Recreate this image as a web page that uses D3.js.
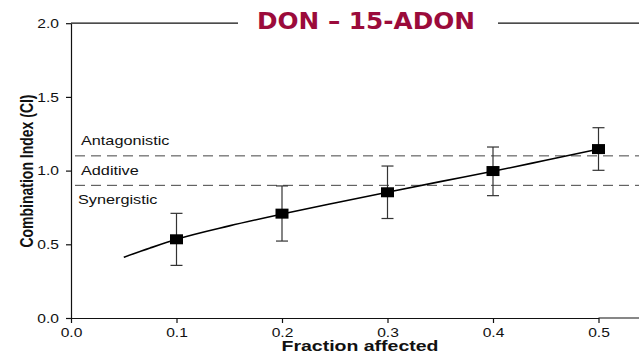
<!DOCTYPE html>
<html>
<head>
<meta charset="utf-8">
<script src="https://cdn.jsdelivr.net/npm/d3@7"></script>
<style>
  body { margin: 0; background: #fff; }
  svg { display: block; }
</style>
</head>
<body>
<script>
// chart data
var fa = [0.1, 0.2, 0.3, 0.4, 0.5];            // fraction affected
var ciMean = [0.534, 0.708, 0.853, 0.997, 1.146];
var ciUpper = [0.71, 0.896, 1.031, 1.16, 1.291];
var ciLower = [0.357, 0.522, 0.675, 0.83, 1.002];

// fitted curve (traced)
var curveFa = [0.05, 0.075, 0.1, 0.15, 0.2, 0.25, 0.3, 0.35, 0.4, 0.45, 0.5];
var curveCi = [0.412, 0.475, 0.534, 0.625, 0.705, 0.78, 0.853, 0.925, 0.995, 1.07, 1.146];

var xTicks = [0.0, 0.1, 0.2, 0.3, 0.4, 0.5];
var yTicks = [0.0, 0.5, 1.0, 1.5, 2.0];

var zones = [
  {name: "Antagonistic", y: 1.1},
  {name: "Additive", y: 0.9},
  {name: "Synergistic", y: null}
];
var titleText = "DON \u2013 15-ADON";

// layout
var width = 639, height = 355;
var stretch = 1.3; // text in the original is wide-stretched
var font = "'Liberation Sans', Arial, sans-serif";

var svg = d3.select("body").append("svg")
  .attr("width", width)
  .attr("height", height);

var x = d3.scaleLinear().domain([0, 0.5]).range([71, 598.5]);
var y = d3.scaleLinear().domain([0, 2]).range([318, 23.2]);

// top frame line (title sits over it)
svg.append("line")
  .attr("x1", x(0)).attr("x2", width)
  .attr("y1", y(2)).attr("y2", y(2))
  .attr("stroke", "#111").attr("stroke-width", 1.2);

// dashed reference lines
[1.1, 0.9].forEach(function (v) {
  svg.append("line")
    .attr("x1", x(0) + 4).attr("x2", width)
    .attr("y1", y(v)).attr("y2", y(v))
    .attr("stroke", "#444").attr("stroke-width", 1)
    .attr("stroke-dasharray", "10,6");
});

// y axis
var yAxis = svg.append("g")
  .attr("transform", "translate(" + x(0) + ",0)")
  .call(d3.axisLeft(y).tickValues(yTicks).tickFormat(d3.format(".1f")).tickSize(5).tickSizeOuter(0));

// x axis (runs to page edge)
var xAxis = svg.append("g")
  .attr("transform", "translate(0," + y(0) + ")")
  .call(d3.axisBottom(x).tickValues(xTicks).tickFormat(d3.format(".1f")).tickSize(5).tickSizeOuter(0));
xAxis.append("line")
  .attr("x1", x(0.5)).attr("x2", width)
  .attr("stroke", "#111");

[yAxis, xAxis].forEach(function (g) {
  g.selectAll(".domain, line").attr("stroke", "#111").attr("stroke-width", 1.2);
  g.selectAll("text")
    .attr("fill", "#111")
    .style("font-family", font)
    .style("font-size", "12px");
});
yAxis.selectAll("text")
  .attr("x", 0).attr("dy", "0.35em")
  .attr("transform", "translate(-12,0) scale(" + stretch + ",1)");
xAxis.selectAll("text")
  .attr("y", 0).attr("dy", 0)
  .attr("transform", "translate(0,18.5) scale(" + stretch + ",1)");

// zone labels
var zoneY = [145, 174.7, 204];
var zoneX = [81, 81, 78];
zones.forEach(function (z, i) {
  svg.append("text")
    .attr("transform", "translate(" + zoneX[i] + "," + zoneY[i] + ") scale(" + stretch + ",1)")
    .style("font-family", font)
    .style("font-size", "12.5px")
    .attr("fill", "#111")
    .text(z.name);
});

// fitted line
var line = d3.line()
  .x(function (d, i) { return x(curveFa[i]); })
  .y(function (d) { return y(d); })
  .curve(d3.curveMonotoneX);
svg.append("path")
  .datum(curveCi)
  .attr("d", line)
  .attr("fill", "none")
  .attr("stroke", "#000")
  .attr("stroke-width", 1.6);

// error bars
var capW = 12;
fa.forEach(function (f, i) {
  var g = svg.append("g").attr("stroke", "#333").attr("stroke-width", 1.2);
  g.append("line")
    .attr("x1", x(f)).attr("x2", x(f))
    .attr("y1", y(ciUpper[i])).attr("y2", y(ciLower[i]));
  [ciUpper[i], ciLower[i]].forEach(function (v) {
    g.append("line")
      .attr("x1", x(f) - capW / 2).attr("x2", x(f) + capW / 2)
      .attr("y1", y(v)).attr("y2", y(v));
  });
});

// square markers
var mw = 13, mh = 10;
svg.selectAll(".pt")
  .data(ciMean)
  .enter()
  .append("rect")
  .attr("class", "pt")
  .attr("x", function (d, i) { return x(fa[i]) - mw / 2; })
  .attr("y", function (d) { return y(d) - mh / 2; })
  .attr("width", mw)
  .attr("height", mh)
  .attr("fill", "#000");

// axis titles
svg.append("text")
  .attr("transform", "translate(360,351) scale(" + stretch + ",1)")
  .attr("text-anchor", "middle")
  .style("font-family", font)
  .style("font-size", "15px")
  .style("font-weight", "bold")
  .attr("fill", "#111")
  .text("Fraction affected");

svg.append("text")
  .attr("transform", "translate(33,171) scale(" + stretch + ",1) rotate(-90)")
  .attr("text-anchor", "middle")
  .style("font-family", font)
  .style("font-size", "14px")
  .style("font-weight", "bold")
  .attr("fill", "#111")
  .text("Combination Index (CI)");

// slide title over the frame
svg.append("rect")
  .attr("x", 238).attr("y", 8)
  .attr("width", 260).attr("height", 28)
  .attr("fill", "#fff");
svg.append("text")
  .attr("x", 366).attr("y", 28.5)
  .attr("text-anchor", "middle")
  .attr("textLength", 218)
  .attr("lengthAdjust", "spacingAndGlyphs")
  .style("font-family", "'DejaVu Sans', Verdana, sans-serif")
  .style("font-size", "23px")
  .style("font-weight", "bold")
  .attr("fill", "#9b0b3b")
  .text(titleText);
</script>
</body>
</html>
